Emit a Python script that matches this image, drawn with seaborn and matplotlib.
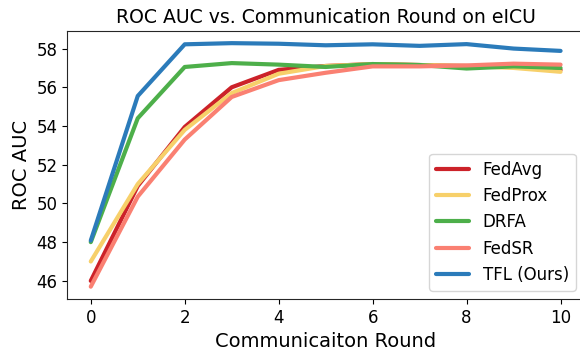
import numpy as np
import pandas as pd
import matplotlib
matplotlib.use("Agg")
import matplotlib.pyplot as plt
import seaborn as sns

# ROC AUC per communication round
rounds = list(range(11))
fedavg = [46.0, 50.9, 53.95, 56.0, 56.9, 57.1, 57.2, 57.15, 57.1, 57.05, 56.9]
fedprox = [47.0, 51.0, 53.8, 55.7, 56.7, 57.1, 57.2, 57.15, 57.1, 57.0, 56.8]
drfa = [48.0, 54.4, 57.05, 57.25, 57.17, 57.05, 57.2, 57.15, 56.97, 57.08, 57.0]
fedsr = [45.7, 50.35, 53.3, 55.5, 56.37, 56.75, 57.08, 57.08, 57.13, 57.22, 57.17]
tfl = [48.08, 55.55, 58.22, 58.28, 58.25, 58.17, 58.22, 58.14, 58.23, 58.0, 57.88]

methods = ["FedAvg", "FedProx", "DRFA", "FedSR", "TFL (Ours)"]
colors = ["#cc2229", "#f7d06a", "#4daf4a", "#fa8072", "#2b7bba"]

df = pd.DataFrame({
    "round": rounds * 5,
    "auc": fedavg + fedprox + drfa + fedsr + tfl,
    "method": [m for m in methods for _ in rounds],
})

sns.set_style("ticks", {"axes.edgecolor": "0.15", "text.color": "black",
                        "axes.labelcolor": "black", "xtick.color": "black",
                        "ytick.color": "black"})
plt.rcParams["font.family"] = ["DejaVu Sans"]
fig, ax = plt.subplots(figsize=(5.8, 3.52), dpi=100)
sns.lineplot(data=df, x="round", y="auc", hue="method", hue_order=methods,
             palette=colors, linewidth=3, ax=ax)

ax.set_title("ROC AUC vs. Communication Round on eICU", fontsize=13.6)
ax.set_xlabel("Communicaiton Round", fontsize=14)
ax.set_ylabel("ROC AUC", fontsize=14)
ax.set_xticks([0, 2, 4, 6, 8, 10])
ax.set_yticks([46, 48, 50, 52, 54, 56, 58])
ax.tick_params(labelsize=12)
ax.legend(loc="lower right", fontsize=12, title=None)

# the reference is cropped just inside the right spine
fig.subplots_adjust(left=0.116, right=1.007, top=0.912, bottom=0.151)
plt.savefig("out.png", dpi=100)
